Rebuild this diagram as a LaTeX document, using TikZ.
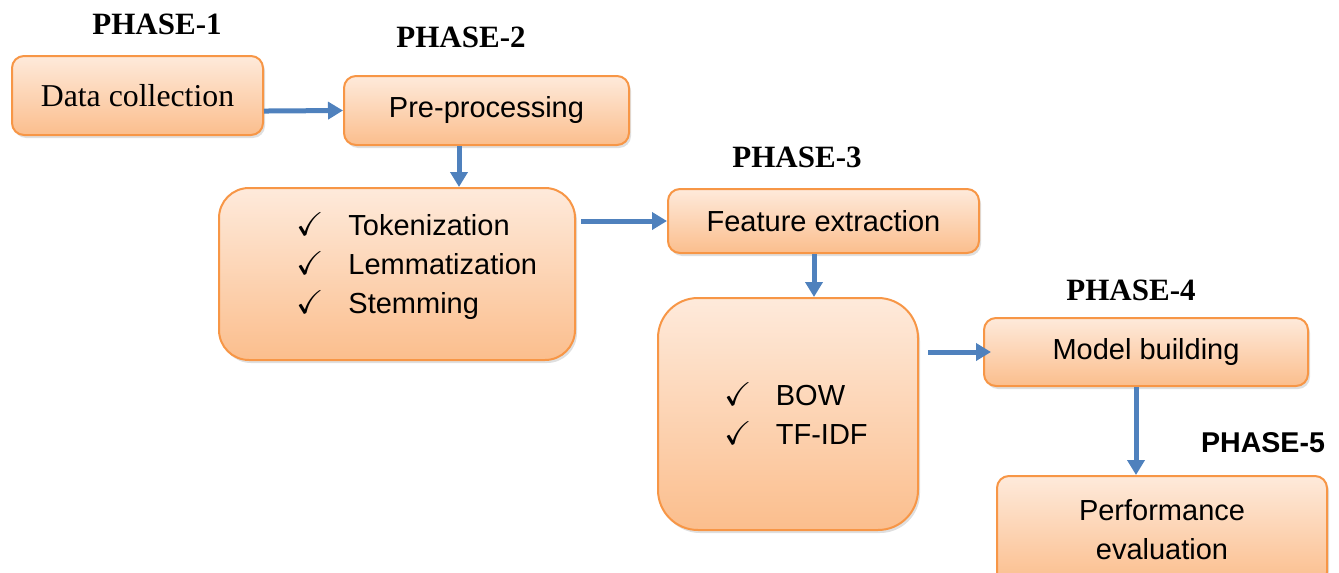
\documentclass[tikz,border=0pt]{standalone}
\usepackage{amssymb}
\usepackage{fontspec}
\setmainfont{Liberation Serif}
\setsansfont{Liberation Sans}
\usetikzlibrary{positioning,shadows,arrows.meta}
\definecolor{boxline}{HTML}{F79646}
\definecolor{boxtop}{HTML}{FEEADB}
\definecolor{boxbot}{HTML}{FBBE8D}
\definecolor{flowblue}{HTML}{4F81BD}
\newcommand{\tick}{{\fontsize{16.5}{19.5}\selectfont$\checkmark$}\hspace{12pt}}
\tikzset{
	phase/.style={font=\fontsize{15.5}{18}\selectfont\bfseries},
	stage/.style={draw=boxline, line width=1pt, rounded corners=6pt,
		top color=boxtop, bottom color=boxbot,
		drop shadow={opacity=0.25, shadow xshift=1pt, shadow yshift=-1.5pt},
		font=\sffamily\fontsize{14.5}{19.5}\selectfont, align=center, inner sep=0pt},
	checklist/.style={font=\sffamily\fontsize{14.5}{19.5}\selectfont, align=left},
	flow/.style={draw=flowblue, line width=2.5pt, -{Triangle[length=7.5pt,width=8.5pt]}},
}
\begin{document}
\begin{tikzpicture}[x=0.5pt, y=-0.5pt]
	\useasboundingbox (0,0) rectangle (1339,573);
	\node[phase] (phase1) at (157,24) {PHASE-1};
	\node[phase] (phase2) at (461,37) {PHASE-2};
	\node[phase] (phase3) at (797,157) {PHASE-3};
	\node[phase] (phase4) at (1131,290) {PHASE-4};
	\node[phase, font=\sffamily\fontsize{14.3}{17}\selectfont\bfseries] (phase5) at (1263,443) {PHASE-5};
	\node[stage, minimum width=125.5pt, minimum height=39.5pt, font=\fontsize{15.9}{18}\selectfont] (collect) at (137.5,95.5) {Data collection};
	\node[stage, minimum width=142.5pt, minimum height=34.5pt] (preproc) at (486.5,110.5) {Pre-processing};
	\node[stage, rounded corners=15pt, minimum width=178pt, minimum height=86pt] (prepbox) at (397,274) {};
	\node[checklist] (preplist) at (417,266) {\tick Tokenization\\\tick Lemmatization\\\tick Stemming};
	\node[stage, minimum width=155.5pt, minimum height=32pt] (feature) at (823.5,221) {Feature extraction};
	\node[stage, rounded corners=20pt, minimum width=130pt, minimum height=116pt] (featbox) at (788,414) {};
	\node[checklist] (featlist) at (796,414) {\tick BOW\\\tick TF-IDF};
	\node[stage, minimum width=162pt, minimum height=34pt] (model) at (1146,352) {Model building};
	\node[stage, minimum width=165pt, minimum height=54pt] (perform) at (1162,530) {Performance\\evaluation};
	\coordinate (ppout) at ([xshift=-13.75pt]preproc.south);
	\coordinate (feout) at ([xshift=-4.75pt]feature.south);
	\coordinate (mbout) at ([xshift=-5pt]model.south);
	\draw[flow] (collect.-7) -- (preproc.west);
	\draw[flow] (ppout) -- (ppout |- prepbox.north);
	\draw[flow, shorten <=2.5pt] (prepbox.east |- feature.west) -- (feature.west);
	\draw[flow] (feout) -- (feout |- featbox.north);
	\draw[flow, shorten <=4.5pt, shorten >=-4pt] (featbox.east |- model.west) -- (model.west);
	\draw[flow] (mbout) -- (mbout |- perform.north);
\end{tikzpicture}
\end{document}
